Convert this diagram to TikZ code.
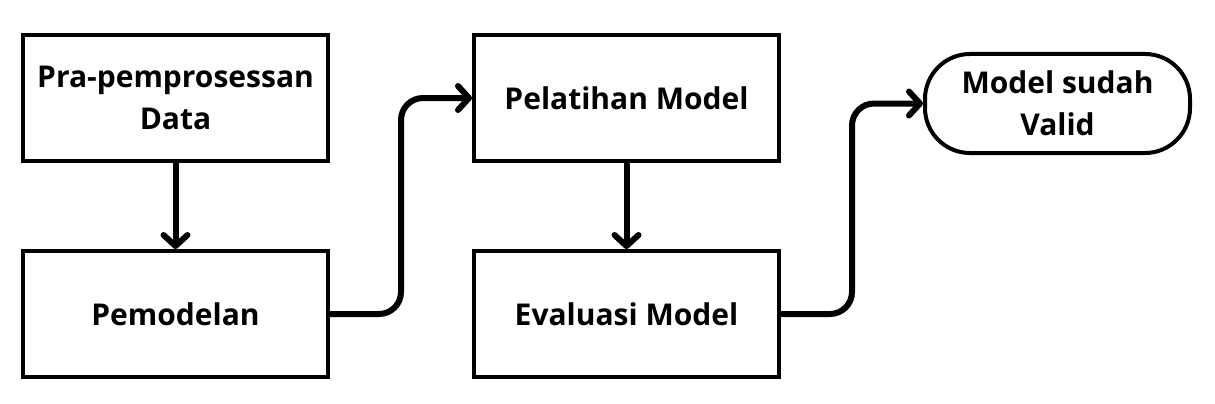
\documentclass[tikz,border=0pt]{standalone}
\usepackage{fontspec}
\setmainfont{Open Sans}
\usetikzlibrary{arrows.meta}
\begin{document}
\begin{tikzpicture}[x=1pt,y=-1pt,
  txt/.style={font=\fontsize{30}{42}\selectfont\bfseries, align=center, inner sep=0pt},
  box/.style={txt, draw, line width=4pt, minimum width=305pt, minimum height=126pt},
  endbox/.style={txt, draw, line width=4pt, rounded corners=45pt, minimum width=265pt, minimum height=99pt},
  arr/.style={line width=6pt, -{Straight Barb[length=11pt, width=24pt, round]}}
]
\useasboundingbox (0,0) rectangle (1215,404);
\node[box] (m1) at (175.5,98) {Pra-pemprosessan\\Data};
\node[box] (m2) at (175.5,314) {Pemodelan};
\node[box] (m3) at (626.5,98) {Pelatihan Model};
\node[box] (m4) at (626.5,314) {Evaluasi Model};
\node[endbox] (m5) at (1057.5,103.5) {Model sudah\\Valid};
\draw[arr] (m1) -- (m2);
\draw[arr] (m3) -- (m4);
\draw[arr, rounded corners=22pt] (m2.east) -- ++(71,0) |- (m3.west);
\draw[arr, rounded corners=22pt] (m4.east) -- ++(71,0) |- (m5.west);
\end{tikzpicture}
\end{document}
